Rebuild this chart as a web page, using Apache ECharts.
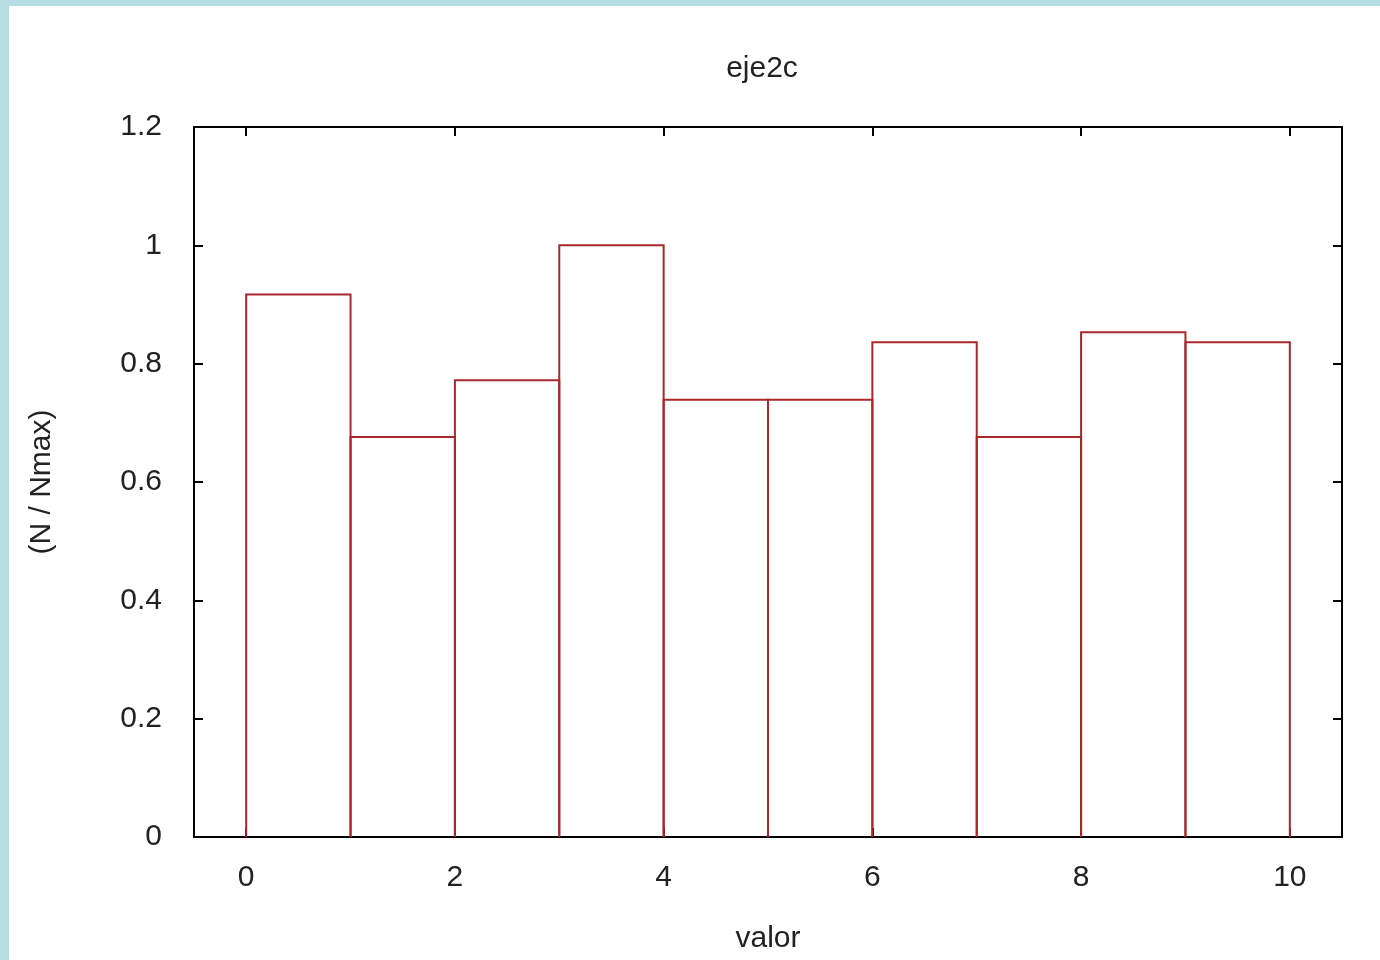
<!DOCTYPE html>
<html>
<head>
<meta charset="utf-8">
<script src="https://cdn.jsdelivr.net/npm/echarts@6/dist/echarts.min.js"></script>
<style>
html, body { margin: 0; padding: 0; background: #ffffff; }
#wrap {
    width: 1371px;
    height: 954px;
    border-left: 9px solid #b5dde2;
    border-top: 6px solid #b5dde2;
    background: #ffffff;
}
#myChart { width: 1371px; height: 954px; }
</style>
</head>
<body>
<div id="wrap"><div id="myChart"></div></div>
<script>
// histograma: inicio de cada clase, fin y altura normalizada
var binStart = [0, 1, 2, 3, 4, 5, 6, 7, 8, 9];
var binEnd   = [1, 2, 3, 4, 5, 6, 7, 8, 9, 10];
var nNorm    = [0.917, 0.676, 0.772, 1.0, 0.739, 0.739, 0.836, 0.676, 0.853, 0.836];
var xTicks   = [0, 2, 4, 6, 8, 10];

var chartDom = document.getElementById('myChart');
var myChart = echarts.init(chartDom);
var option;

var fontFam = '"Liberation Sans", Arial, sans-serif';
var histData = binStart.map(function (s, i) { return [s, binEnd[i], nNorm[i]]; });

option = {
    animation: false,
    backgroundColor: '#ffffff',
    title: {
        text: 'eje2c',
        left: 748,
        top: 43,
        textAlign: 'center',
        textStyle: { fontFamily: fontFam, fontSize: 30, fontWeight: 'normal', color: '#222' }
    },
    grid: { left: 185, right: 38, top: 121, bottom: 123, outerBoundsMode: 'none', containLabel: false },
    xAxis: [
        {
            type: 'value',
            min: -0.5,
            max: 10.5,
            name: 'valor',
            nameLocation: 'middle',
            nameGap: 87,
            nameTextStyle: { fontFamily: fontFam, fontSize: 30, color: '#222' },
            axisLine: { show: true, onZero: false, lineStyle: { color: '#000', width: 2 } },
            axisTick: { show: true, inside: true, length: 9, customValues: xTicks, lineStyle: { color: '#000', width: 2 } },
            axisLabel: { customValues: xTicks, margin: 26, fontFamily: fontFam, fontSize: 30, color: '#222' },
            splitLine: { show: false }
        },
        {
            type: 'value',
            position: 'top',
            min: -0.5,
            max: 10.5,
            axisLine: { show: true, onZero: false, lineStyle: { color: '#000', width: 2 } },
            axisTick: { show: true, inside: true, length: 9, customValues: xTicks, lineStyle: { color: '#000', width: 2 } },
            axisLabel: { show: false },
            splitLine: { show: false }
        }
    ],
    yAxis: [
        {
            type: 'value',
            min: 0,
            max: 1.2,
            interval: 0.2,
            name: '(N / Nmax)',
            nameLocation: 'middle',
            nameRotate: 90,
            nameGap: 137,
            nameTextStyle: { fontFamily: fontFam, fontSize: 30, color: '#222' },
            axisLine: { show: true, onZero: false, lineStyle: { color: '#000', width: 2 } },
            axisTick: { show: true, inside: true, length: 9, lineStyle: { color: '#000', width: 2 } },
            axisLabel: { margin: 32, fontFamily: fontFam, fontSize: 30, color: '#222' },
            splitLine: { show: false }
        },
        {
            type: 'value',
            position: 'right',
            min: 0,
            max: 1.2,
            interval: 0.2,
            axisLine: { show: true, onZero: false, lineStyle: { color: '#000', width: 2 } },
            axisTick: { show: true, inside: true, length: 9, lineStyle: { color: '#000', width: 2 } },
            axisLabel: { show: false },
            splitLine: { show: false }
        }
    ],
    series: [
        {
            type: 'custom',
            xAxisIndex: 0,
            yAxisIndex: 0,
            data: histData,
            renderItem: function (params, api) {
                var p0 = api.coord([api.value(0), 0]);
                var p1 = api.coord([api.value(1), api.value(2)]);
                return {
                    type: 'polyline',
                    shape: {
                        points: [[p0[0], p0[1]], [p0[0], p1[1]], [p1[0], p1[1]], [p1[0], p0[1]]]
                    },
                    style: { fill: null, stroke: '#a8282c', lineWidth: 2 }
                };
            },
            z: 3
        }
    ]
};

option && myChart.setOption(option);
</script>
</body>
</html>
